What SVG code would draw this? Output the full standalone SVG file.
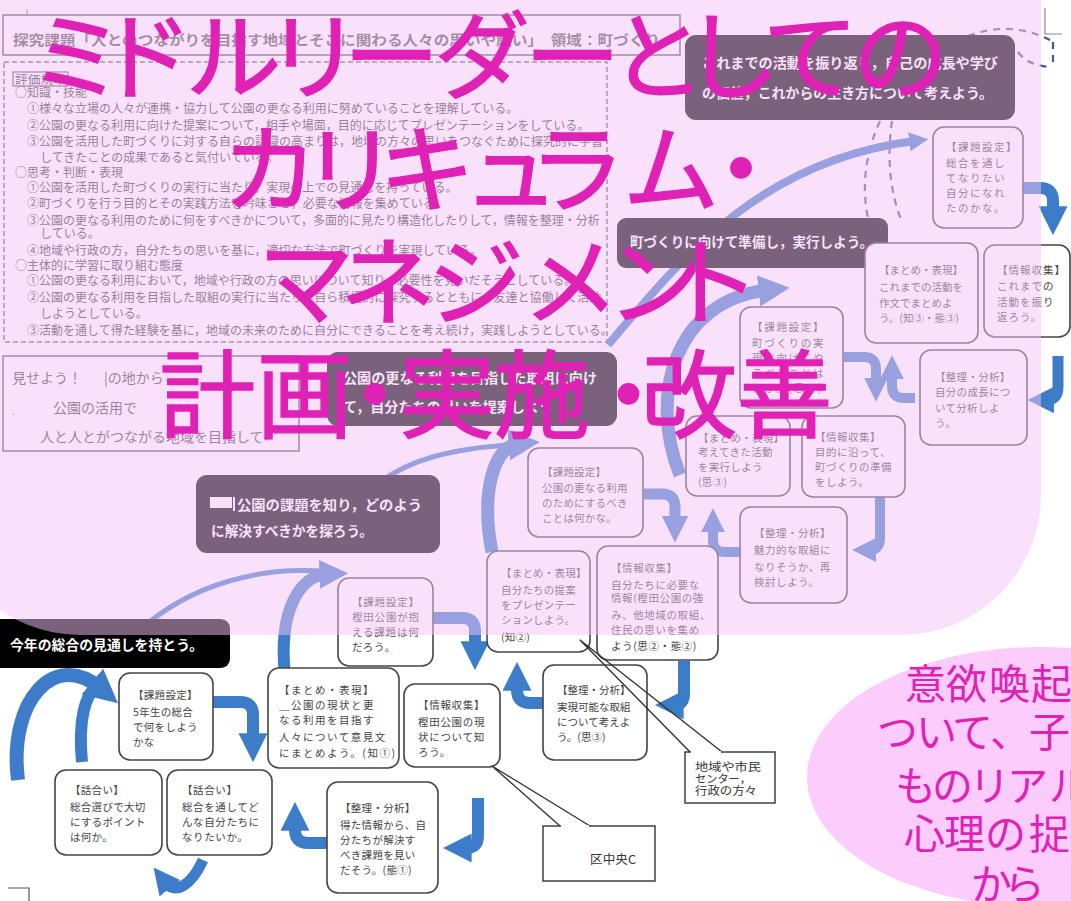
<svg xmlns="http://www.w3.org/2000/svg" width="1071" height="901" viewBox="0 0 1071 901">
<defs>
<style>
text { font-family: "Noto Sans CJK JP", "Noto Sans CJK SC", sans-serif; }
.nd rect { fill:#fff; stroke:#444; stroke-width:1.6; }
.nt { font-size:10.5px; fill:#444; letter-spacing:0.3px; }
.db { fill:#000; }
.dt { font-size:13.5px; fill:#fff; font-weight:bold; }
.cr { font-size:12px; fill:#3a3a3a; }
.bl { fill:none; stroke:#3d7cc9; marker-end:url(#ah); }
.thin { fill:none; stroke:#3d7cc9; }
.dash { fill:none; stroke:#3d5a9a; stroke-width:2.2; stroke-dasharray:7 6; }
.big { font-size:96px; fill:#e021b6; stroke:#e021b6; stroke-width:1.4px; }
.note { font-size:41px; fill:#e021b6; }
</style>
<marker id="ah" viewBox="0 0 10 10" refX="3" refY="5" markerWidth="2.4" markerHeight="2.4" orient="auto" markerUnits="strokeWidth">
<path d="M0,0 L10,5 L0,10 z" fill="#3d7cc9"/>
</marker>
</defs>

<rect x="0" y="0" width="1071" height="901" fill="#fff"/>

<g id="marks" fill="none" stroke="#888" stroke-width="1.2">
<path d="M27 9 V16"/>
<path d="M1045 8 V34 H1062"/>
<path d="M8 888 H29 V901" stroke="#555"/>
</g>

<g id="header">
<rect x="3" y="15" width="677" height="40" fill="#fff" stroke="#555" stroke-width="1.5"/>
<text x="13" y="45" font-size="14" font-weight="bold" fill="#555" textLength="647" lengthAdjust="spacingAndGlyphs">探究課題「人とのつながりを目指す地域とそこに関わる人々の思いや願い」　領域：町づくり</text>
</g>

<g id="criteria">
<rect x="4" y="62" width="603" height="280" fill="none" stroke="#666" stroke-width="1.5" stroke-dasharray="5 3"/>
<rect x="13" y="72" width="55" height="14" fill="none" stroke="#555" stroke-width="1.2"/>
<text x="15" y="83.5" font-size="11.5" fill="#333" textLength="51" lengthAdjust="spacingAndGlyphs">評価規準</text>
<text class="cr">
<tspan x="15" y="96.5">○知識・技能</tspan>
<tspan x="27" y="112.5">①様々な立場の人々が連携・協力して公園の更なる利用に努めていることを理解している。</tspan>
<tspan x="27" y="129.5">②公園の更なる利用に向けた提案について，相手や場面，目的に応じてプレゼンテーションをしている。</tspan>
<tspan x="27" y="146">③公園を活用した町づくりに対する自らの認識の高まりは，地域の方々の思いをつなぐために探究的に学習</tspan>
<tspan x="40" y="161.5">してきたことの成果であると気付いている。</tspan>
<tspan x="15" y="176.5">○思考・判断・表現</tspan>
<tspan x="27" y="191.5">①公園を活用した町づくりの実行に当たり，実現の上での見通しを持っている。</tspan>
<tspan x="27" y="207.5">②町づくりを行う目的とその実践方法を吟味させ，必要な情報を集めている。</tspan>
<tspan x="27" y="224.5">③公園の更なる利用のために何をすべきかについて，多面的に見たり構造化したりして，情報を整理・分析</tspan>
<tspan x="40" y="237.5">している。</tspan>
<tspan x="27" y="254.5">④地域や行政の方，自分たちの思いを基に，適切な方法で町づくりを実現している。</tspan>
<tspan x="15" y="269.5">○主体的に学習に取り組む態度</tspan>
<tspan x="27" y="284.5">①公園の更なる利用において，地域や行政の方の思いについて知り，必要性を見いだそうとしている。</tspan>
<tspan x="27" y="301.5">②公園の更なる利用を目指した取組の実行に当たり，自ら積極的に探究するとともに，友達と協働して活動</tspan>
<tspan x="40" y="317.5">しようとしている。</tspan>
<tspan x="27" y="334.5">③活動を通して得た経験を基に，地域の未来のために自分にできることを考え続け，実践しようとしている。</tspan>
</text>
</g>

<g id="goal-box">
<rect x="3" y="356" width="296" height="95" fill="#fff" stroke="#555" stroke-width="1.5"/>
<text font-size="14" fill="#444">
<tspan x="12" y="383">見せよう！</tspan>
<tspan x="104" y="383">|の地から</tspan>
<tspan x="12" y="413" font-size="9">ˎ</tspan>
<tspan x="53" y="413">公園の活用で</tspan>
<tspan x="40" y="442">人と人とがつながる地域を目指して</tspan>
<tspan x="264" y="442" font-size="10">↵</tspan>
</text>
</g>

<g id="connectors">
<path class="dash" d="M880 121 Q858 170 868 218"/>
<path class="dash" d="M892 121 Q884 178 902 222"/>
<path class="dash" stroke="#4a5f9a" d="M968 36 Q1010 20 1050 40"/>
<path class="dash" stroke="#4a5f9a" d="M1018 52 Q1028 66 1052 67"/>
<path class="dash" stroke="#4a5f9a" d="M1053 42 V66"/>
<path class="bl" stroke-width="8" d="M608 345 C680 260 760 160 915 141"/>
<path class="bl" stroke-width="13" d="M680 475 C648 395 675 300 768 290"/>
<path class="thin" stroke-width="5" d="M380 482 C410 460 450 448 520 444"/>
<path class="bl" stroke-width="13" d="M492 552 C480 490 495 446 518 444"/>
<path class="thin" stroke-width="5" d="M140 630 C190 585 260 565 330 572"/>
<path class="bl" stroke-width="12" d="M285 676 C278 610 300 575 328 574"/>
<path class="thin" stroke-width="12" d="M82 762 C78 720 85 695 97 686"/>
<path class="bl" stroke-width="14" d="M18 780 C8 700 55 650 100 688"/>
<path class="bl" stroke-width="12" d="M1023 188 H1040 Q1053 188 1053 201 V215"/>
<path class="bl" stroke-width="11" d="M1058 356 V387 Q1058 400 1046 400"/>
<path class="bl" stroke-width="10" d="M915 398 H904 Q892 398 892 386 V372"/>
<path class="bl" stroke-width="10" d="M844 357 H864 Q876 357 876 369 V385"/>
<path class="bl" stroke-width="10" d="M880 497 V538 Q880 550 869 550"/>
<path class="bl" stroke-width="10" d="M740 552 H725 Q713 552 713 540 V525"/>
<path class="bl" stroke-width="11" d="M644 494 H662 Q675 494 675 507 V524"/>
<path class="bl" stroke-width="12" d="M684 661 V693 Q684 705 675 705"/>
<path class="bl" stroke-width="12" d="M543 703 H530 Q517 703 517 690 V682"/>
<path class="bl" stroke-width="12" d="M433 618 H462 Q475 618 475 631 V650"/>
<path class="bl" stroke-width="12" d="M478 798 V836 Q478 848 466 848 H463"/>
<path class="bl" stroke-width="12" d="M327 843 H308 Q295 843 295 830 V822"/>
<path class="bl" stroke-width="12" d="M213 702 H240 Q253 702 253 715 V742"/>
<path class="bl" stroke-width="11" d="M203 860 C192 884 176 896 165 882"/>
</g>

<g id="db-reflect">
<rect class="db" x="685" y="35" width="330" height="85" rx="11"/>
<text class="dt" x="702" y="68" textLength="296" lengthAdjust="spacingAndGlyphs">これまでの活動を振り返り，自己の成長や学び</text>
<text class="dt" x="702" y="98" textLength="291" lengthAdjust="spacingAndGlyphs">の価値，これからの生き方について考えよう。</text>
</g>
<g id="db-prepare">
<rect class="db" x="617" y="218" width="271" height="50" rx="9"/>
<text class="dt" x="630" y="247" textLength="243" lengthAdjust="spacingAndGlyphs">町づくりに向けて準備し，実行しよう。</text>
</g>
<g id="db-propose">
<rect class="db" x="327" y="352" width="290" height="74" rx="11"/>
<text class="dt" x="343" y="383" textLength="254" lengthAdjust="spacingAndGlyphs">公園の更なる利用を目指した取組に向け</text>
<text class="dt" x="343" y="412" textLength="210" lengthAdjust="spacingAndGlyphs">て，自分たちの思いを提案しよう</text>
</g>
<g id="db-issue">
<rect class="db" x="196" y="475" width="244" height="78" rx="11"/>
<rect x="210" y="497" width="22" height="11" fill="#fff"/>
<rect x="233" y="497" width="2" height="14" fill="#fff"/>
<text class="dt" x="237" y="510" textLength="185" lengthAdjust="spacingAndGlyphs">公園の課題を知り，どのよう</text>
<text class="dt" x="211" y="536" textLength="162" lengthAdjust="spacingAndGlyphs">に解決すべきかを探ろう。</text>
</g>
<g id="db-year">
<rect class="db" x="-12" y="619" width="242" height="49" rx="9"/>
<text class="dt" x="10" y="650" textLength="193" lengthAdjust="spacingAndGlyphs">今年の総合の見通しを持とう。</text>
</g>

<g id="node-a" class="nd"><rect x="933" y="127" width="90" height="101" rx="11"/>
<text class="nt" style="letter-spacing:1.5px"><tspan x="946" y="151">【課題設定】</tspan><tspan x="946" y="167">総合を通し</tspan><tspan x="946" y="182">てなりたい</tspan><tspan x="946" y="197">自分になれ</tspan><tspan x="946" y="212">たのかな。</tspan></text></g>
<g id="node-b" class="nd"><rect x="865" y="243" width="113" height="100" rx="11"/>
<text class="nt" style="letter-spacing:0px"><tspan x="879" y="274">【まとめ・表現】</tspan><tspan x="879" y="291">これまでの活動を</tspan><tspan x="879" y="307">作文でまとめよ</tspan><tspan x="879" y="322">う。(知③・態③)</tspan></text></g>
<g id="node-c" class="nd"><rect x="984" y="245" width="86" height="92" rx="11"/>
<text class="nt" style="letter-spacing:1px"><tspan x="997" y="274">【情報収集】</tspan><tspan x="997" y="290">これまでの</tspan><tspan x="997" y="306">活動を振り</tspan><tspan x="997" y="321">返ろう。</tspan></text></g>
<g id="node-d" class="nd"><rect x="920" y="350" width="107" height="95" rx="11"/>
<text class="nt"><tspan x="935" y="381">【整理・分析】</tspan><tspan x="935" y="396">自分の成長につ</tspan><tspan x="935" y="412">いて分析しよ</tspan><tspan x="935" y="427">う。</tspan></text></g>
<g id="node-e" class="nd"><rect x="740" y="307" width="103" height="101" rx="11"/>
<text class="nt" style="letter-spacing:1.7px"><tspan x="752" y="331">【課題設定】</tspan><tspan x="752" y="347">町づくりの実</tspan><tspan x="752" y="362">現に向けてや</tspan><tspan x="752" y="377">るべきことは</tspan><tspan x="752" y="392">何か。(思②)</tspan></text></g>
<g id="node-f" class="nd"><rect x="686" y="416" width="104" height="80" rx="11"/>
<text class="nt"><tspan x="698" y="442">【まとめ・表現】</tspan><tspan x="698" y="456">考えてきた活動</tspan><tspan x="698" y="471">を実行しよう</tspan><tspan x="698" y="486">(思③)</tspan></text></g>
<g id="node-g" class="nd"><rect x="802" y="416" width="103" height="81" rx="11"/>
<text class="nt" style="letter-spacing:0.5px"><tspan x="815" y="441">【情報収集】</tspan><tspan x="815" y="456">目的に沿って、</tspan><tspan x="815" y="471">町づくりの準備</tspan><tspan x="815" y="486">をしよう。</tspan></text></g>
<g id="node-h" class="nd"><rect x="740" y="507" width="107" height="96" rx="11"/>
<text class="nt" style="letter-spacing:0.5px"><tspan x="754" y="537">【整理・分析】</tspan><tspan x="754" y="554">魅力的な取組に</tspan><tspan x="754" y="571">なりそうか、再</tspan><tspan x="754" y="586">検討しよう。</tspan></text></g>
<g id="node-i" class="nd"><rect x="528" y="448" width="115" height="89" rx="11"/>
<text class="nt" style="letter-spacing:0.2px"><tspan x="542" y="476">【課題設定】</tspan><tspan x="542" y="492">公園の更なる利用</tspan><tspan x="542" y="507">のためにするべき</tspan><tspan x="542" y="522">ことは何かな。</tspan></text></g>
<g id="node-j" class="nd"><rect x="487" y="551" width="103" height="101" rx="11"/>
<text class="nt" style="letter-spacing:0.2px"><tspan x="501" y="577">【まとめ・表現】</tspan><tspan x="501" y="594">自分たちの提案</tspan><tspan x="501" y="609">をプレゼンテー</tspan><tspan x="501" y="624">ションしよう。</tspan><tspan x="501" y="641">(知②)</tspan></text></g>
<g id="node-k" class="nd"><rect x="597" y="546" width="121" height="114" rx="11"/>
<text class="nt" style="letter-spacing:0.6px"><tspan x="611" y="572">【情報収集】</tspan><tspan x="611" y="589">自分たちに必要な</tspan><tspan x="611" y="602">情報(樫田公園の強</tspan><tspan x="611" y="619">み、他地域の取組、</tspan><tspan x="611" y="634">住民の思いを集め</tspan><tspan x="611" y="650">よう(思②・態②)</tspan></text></g>
<g id="node-l" class="nd"><rect x="338" y="578" width="95" height="88" rx="11"/>
<text class="nt" style="letter-spacing:0.8px"><tspan x="352" y="606">【課題設定】</tspan><tspan x="352" y="621">樫田公園が抱</tspan><tspan x="352" y="636">える課題は何</tspan><tspan x="352" y="651">だろう。</tspan></text></g>
<g id="node-m" class="nd"><rect x="268" y="668" width="131" height="100" rx="11"/>
<text class="nt" style="letter-spacing:1.5px"><tspan x="279" y="694">【まとめ・表現】</tspan><tspan x="279" y="709">＿公園の現状と更</tspan><tspan x="279" y="724">なる利用を目指す</tspan><tspan x="279" y="741">人々について意見文</tspan><tspan x="279" y="757">にまとめよう。(知①)</tspan></text></g>
<g id="node-n" class="nd"><rect x="404" y="684" width="96" height="83" rx="11"/>
<text class="nt" style="letter-spacing:0.7px"><tspan x="418" y="709">【情報収集】</tspan><tspan x="418" y="726">樫田公園の現</tspan><tspan x="418" y="741">状について知</tspan><tspan x="418" y="756">ろう。</tspan></text></g>
<g id="node-o" class="nd"><rect x="543" y="665" width="104" height="95" rx="11"/>
<text class="nt" style="letter-spacing:0px"><tspan x="557" y="694">【整理・分析】</tspan><tspan x="557" y="711">実現可能な取組</tspan><tspan x="557" y="726">について考えよ</tspan><tspan x="557" y="741">う。(思③)</tspan></text></g>
<g id="node-p" class="nd"><rect x="327" y="782" width="111" height="111" rx="11"/>
<text class="nt"><tspan x="340" y="812">【整理・分析】</tspan><tspan x="340" y="829">得た情報から、自</tspan><tspan x="340" y="844">分たちが解決す</tspan><tspan x="340" y="859">べき課題を見い</tspan><tspan x="340" y="874">だそう。(態①)</tspan></text></g>
<g id="node-q" class="nd"><rect x="119" y="673" width="94" height="87" rx="11"/>
<text class="nt"><tspan x="133" y="699">【課題設定】</tspan><tspan x="133" y="716">5年生の総合</tspan><tspan x="133" y="731">で何をしよう</tspan><tspan x="133" y="746">かな</tspan></text></g>
<g id="node-r" class="nd"><rect x="55" y="770" width="107" height="85" rx="11"/>
<text class="nt"><tspan x="70" y="794">【話合い】</tspan><tspan x="70" y="811">総合選びで大切</tspan><tspan x="70" y="826">にするポイント</tspan><tspan x="70" y="841">は何か。</tspan></text></g>
<g id="node-s" class="nd"><rect x="167" y="770" width="105" height="85" rx="11"/>
<text class="nt" style="letter-spacing:0.6px"><tspan x="182" y="794">【話合い】</tspan><tspan x="182" y="811">総合を通してど</tspan><tspan x="182" y="826">んな自分たちに</tspan><tspan x="182" y="841">なりたいか。</tspan></text></g>

<g id="callout-center">
<rect x="543" y="826" width="112" height="55" fill="#fff" stroke="#333" stroke-width="1.4"/>
<path d="M560 826 L492 766 L590 826" fill="none" stroke="#333" stroke-width="1.4"/>
<path d="M561 826 H589" stroke="#fff" stroke-width="2"/>
<rect x="553" y="845" width="34" height="25" fill="#fff"/>
<text x="590" y="864" font-size="12" fill="#333" textLength="46" lengthAdjust="spacingAndGlyphs">区中央C</text>
</g>
<g id="callout-community">
<rect x="685" y="752" width="90" height="51" fill="#fff" stroke="#333" stroke-width="1.4"/>
<path d="M690 752 L580 640 L722 752" fill="none" stroke="#333" stroke-width="1.4"/>
<path d="M691 752 H721" stroke="#fff" stroke-width="2"/>
<text font-size="11" fill="#333"><tspan x="695" y="771" textLength="66" lengthAdjust="spacingAndGlyphs">地域や市民</tspan><tspan x="695" y="783" textLength="56" lengthAdjust="spacingAndGlyphs">センター，</tspan><tspan x="695" y="795" textLength="62" lengthAdjust="spacingAndGlyphs">行政の方々</tspan></text>
</g>

<rect id="overlay" x="-60" y="-200" width="1101" height="835" rx="140" fill="#f5c4f8" fill-opacity="0.5"/>

<g id="title">
<text class="big" x="29 97 185.5 265.5 343.5 434 524.5 610 684 762.5 852.5" y="91">ミドルリーダーとしての</text>
<text class="big" x="222 302 379 463 529 623 693" y="204">カリキュラム・</text>
<text class="big" x="258 340 428 523 607 664" y="317">マネジメント</text>
<text class="big" x="159.5 256.5 327 399 494 580.5 641 736.5" y="430">計画・実施・改善</text>
</g>

<g id="note">
<ellipse cx="1040" cy="777" rx="233" ry="130" fill="#fccdfc"/>
<text class="note" x="905 946 989 1031" y="699">意欲喚起</text>
<text class="note" x="877 916 952 990 1029" y="747">ついて、子</text>
<text class="note" x="895 932 969 1007 1049" y="801">ものリアル</text>
<text class="note" x="904 944 985 1029" y="849">心理の捉</text>
<text class="note" x="971 1004" y="899">から</text>
</g>
</svg>
